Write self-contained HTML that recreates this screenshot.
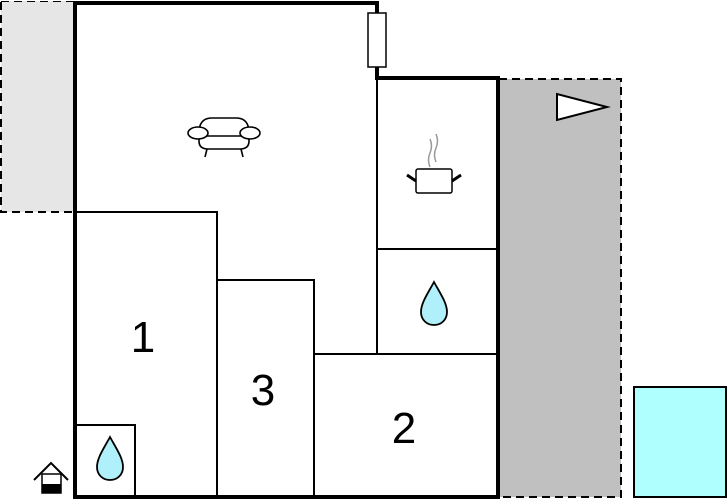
<!DOCTYPE html>
<html><head><meta charset="utf-8"><style>html,body{margin:0;padding:0;background:#fff}svg{display:block}</style></head>
<body>
<svg width="728" height="500" viewBox="0 0 728 500" xmlns="http://www.w3.org/2000/svg">
<rect x="1" y="1" width="73" height="211" fill="#e6e6e6" stroke="#000" stroke-width="2" stroke-dasharray="8,5"/>
<rect x="0" y="0" width="74" height="1" fill="#fff"/>
<rect x="499" y="79" width="122" height="418" fill="#c0c0c0" stroke="#000" stroke-width="2" stroke-dasharray="8,5"/>
<rect x="634" y="387" width="92" height="110" fill="#b0ffff" stroke="#000" stroke-width="2"/>
<g stroke="#000" stroke-width="2" fill="none">
<path d="M74 212 H217 V497"/>
<path d="M217 280 H314 V497"/>
<path d="M314 354 H498"/>
<path d="M377 79 V354"/>
<path d="M377 249 H498"/>
<path d="M74 425 H135 V497"/>
</g>
<path d="M75 497 V3 H377 V78 H498 V497 Z" fill="none" stroke="#000" stroke-width="4"/>
<rect x="368" y="13" width="18" height="54" fill="#fff" stroke="#000" stroke-width="1.5"/>
<polygon points="557,94 557,120 607,107" fill="#fff" stroke="#000" stroke-width="2"/>
<!-- sofa -->
<g stroke="#000" stroke-width="1.6" fill="#fff">
<path d="M207 149 L205 157 M241 149 L243 157" fill="none"/>
<path d="M199 133 Q199 118 212 118 H236 Q249 118 249 133 L249 141 Q249 149 240 149 H208 Q199 149 199 141 Z"/>
<line x1="206" y1="136" x2="242" y2="136"/>
<ellipse cx="198" cy="133" rx="10" ry="6"/>
<ellipse cx="250" cy="133" rx="10" ry="6"/>
</g>
<!-- pot -->
<g>
<path d="M430 167 Q427 160 430 153 Q433 146 430 139" stroke="#999" stroke-width="1.5" fill="none"/>
<path d="M436 162 Q433 155 436 148 Q439 141 436 134" stroke="#999" stroke-width="1.5" fill="none"/>
<rect x="416" y="169" width="36" height="24" rx="2" fill="#fff" stroke="#000" stroke-width="1.5"/>
<path d="M416 181 L407 175 M452 181 L461 175" stroke="#000" stroke-width="3"/>
</g>
<!-- drops -->
<path d="M434 282 C428 293 421 303 421 312 C421 320 427 325 434 325 C441 325 447 320 447 312 C447 303 440 293 434 282 Z" fill="#b0f0fa" stroke="#000" stroke-width="1.8"/>
<path d="M110 437 C104 448 97 458 97 467 C97 475 103 480 110 480 C117 480 123 475 123 467 C123 458 116 448 110 437 Z" fill="#b0f0fa" stroke="#000" stroke-width="1.8"/>
<!-- house icon -->
<path d="M34 480 L51 463 L68 480" stroke="#000" stroke-width="2" fill="none"/>
<rect x="42" y="474" width="19" height="19" fill="#fff" stroke="#000" stroke-width="1.5"/>
<rect x="42" y="484" width="19" height="9" fill="#000"/>
<g font-family="Liberation Sans, sans-serif" font-size="44" text-anchor="middle" fill="#000">
<text x="143" y="352">1</text>
<text x="263" y="405">3</text>
<text x="404" y="443">2</text>
</g>
</svg>
</body></html>
